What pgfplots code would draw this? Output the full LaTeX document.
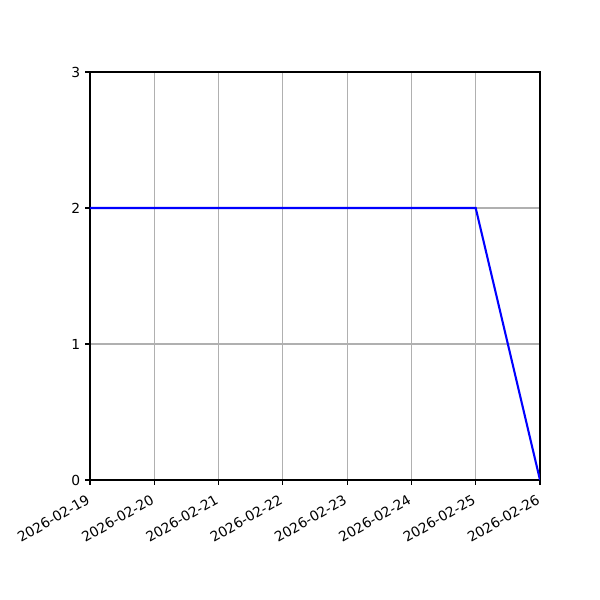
\documentclass[border=0pt]{standalone}
\usepackage{fontspec}
\setmainfont{DejaVu Sans}
\usepackage{pgfplots}
\pgfplotsset{compat=1.18}
\definecolor{gridgray}{HTML}{B0B0B0}
\begin{document}
\begin{tikzpicture}
\useasboundingbox (-0.9in,-1.2in) rectangle (5.1in,4.8in);
\begin{axis}[
    at={(0,0)}, anchor=south west,
    scale only axis,
    width=4.5in, height=4.08in,
    xmin=0, xmax=7, ymin=0, ymax=3,
    xtick={0,1,2,3,4,5,6,7},
    xticklabels={2026-02-19,2026-02-20,2026-02-21,2026-02-22,2026-02-23,2026-02-24,2026-02-25,2026-02-26},
    ytick={0,1,2,3},
    x tick label style={rotate=30, anchor=north east, xshift=-2.5pt, yshift=-0.5pt, font=\fontsize{10}{12}\selectfont},
    y tick label style={font=\fontsize{10}{12}\selectfont},
    /pgf/number format/assume math mode=true,
    tick align=outside,
    major tick length=3.5pt,
    xtick pos=bottom, ytick pos=left,
    tick style={black, line width=0.8pt},
    axis line style={line width=0.8pt},
    grid=major,
    major grid style={gridgray, line width=0.8pt},
]
\addplot[blue, line width=1.5pt] coordinates {
    (0,2) (1,2) (2,2) (3,2) (4,2) (5,2) (6,2) (7,0)
};
\end{axis}
\end{tikzpicture}
\end{document}
